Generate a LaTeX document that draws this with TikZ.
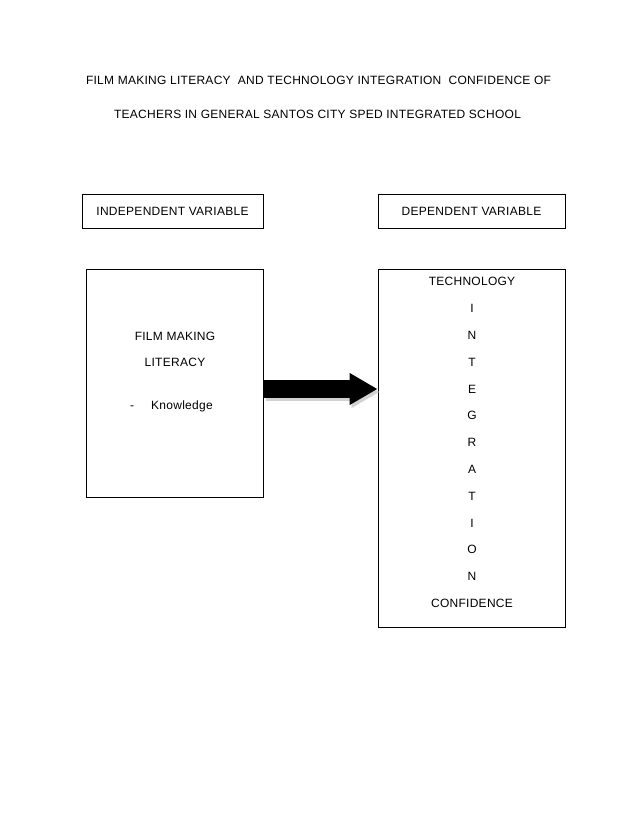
\documentclass[tikz,border=0pt]{standalone}
\usepackage{fontspec}
\setmainfont[LetterSpace=2.3]{Liberation Sans}
\usetikzlibrary{arrows.meta,calc,positioning}

\begin{document}
\begin{tikzpicture}[x=1pt,y=-1pt]
    \tikzset{every node/.style={font=\fontsize{12}{14}\selectfont,inner sep=0pt}}
    \tikzset{varbox/.style={draw,line width=0.8pt,minimum height=34pt}}
    \tikzset{bigbox/.style={draw,line width=0.8pt}}
    \useasboundingbox (0,0) rectangle (638,826);
    % title
    \node (title1) at (318.5,80) {FILM MAKING LITERACY \ AND TECHNOLOGY INTEGRATION \ CONFIDENCE OF};
    \node (title2) at (317.5,114) {TEACHERS IN GENERAL SANTOS CITY SPED INTEGRATED SCHOOL};
    % variable headers
    \node[varbox,minimum width=181pt] (iv) at (172.5,211) {INDEPENDENT VARIABLE};
    \node[varbox,minimum width=187pt] (dv) at (471.5,211) {DEPENDENT VARIABLE};
    % boxes
    \node[bigbox,minimum width=177pt,minimum height=228pt] (lbox) at (174.5,383) {};
    \node[bigbox,minimum width=187pt,minimum height=358pt] (rbox) at (471.5,448) {};
    \node (fm) at (175,336) {FILM MAKING};
    \node (lit) at (175,362) {LITERACY};
    \node[anchor=base west] (dash) at (130,409) {-};
    \node[anchor=base west] (know) at (151,409) {Knowledge};
    \foreach \ltr [count=\i] in {TECHNOLOGY,I,N,T,E,G,R,A,T,I,O,N,CONFIDENCE}
        \node (dv\i) at (472,{255+26.8*\i}) {\ltr};
    % arrow
    \coordinate (from) at ($(lbox.east)+(1,6)$);
    \coordinate (to) at (rbox.west |- from);
    \draw[gray!35,line width=18pt,-{Triangle[width=30pt,length=28pt]}] ($(from)+(2,3)$) -- ($(to)+(2,3)$);
    \draw[line width=18pt,-{Triangle[width=30pt,length=28pt]}] (from) -- (to);
\end{tikzpicture}
\end{document}
